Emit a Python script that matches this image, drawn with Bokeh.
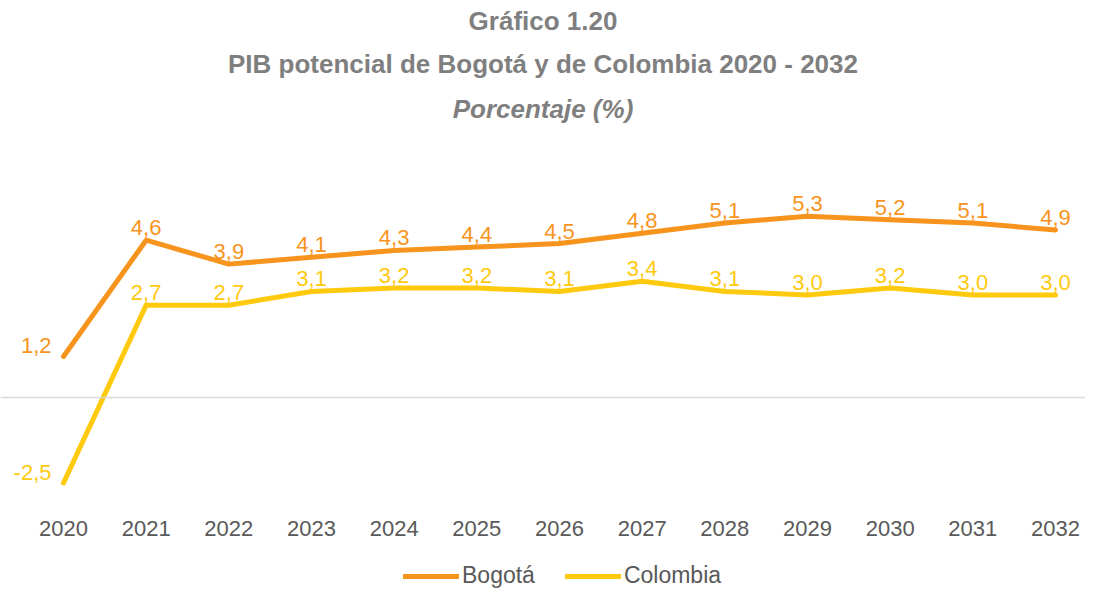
from bokeh.plotting import figure
from bokeh.models import ColumnDataSource, Span, Title, Legend, LegendItem, FixedTicker, Range1d
from bokeh.core.properties import value
from bokeh.embed import file_html
from bokeh.resources import INLINE

years = ["2020", "2021", "2022", "2023", "2024", "2025", "2026",
         "2027", "2028", "2029", "2030", "2031", "2032"]
bogota = [1.2, 4.6, 3.9, 4.1, 4.3, 4.4, 4.5, 4.8, 5.1, 5.3, 5.2, 5.1, 4.9]
colombia = [-2.5, 2.7, 2.7, 3.1, 3.2, 3.2, 3.1, 3.4, 3.1, 3.0, 3.2, 3.0, 3.0]

ORANGE = "#F7941D"
YELLOW = "#FFC90E"
GRAY = "#7F7F7F"
TXT = "#595959"
FONT = "Liberation Sans"
TFONT = "Liberation Sans"

idx = list(range(len(years)))

def fmt(v):
    return f"{v:.1f}".replace(".", ",")

p = figure(frame_width=1085, frame_height=460, output_backend="svg", toolbar_location=None,
           x_range=Range1d(-0.762, 12.363), y_range=Range1d(-5.643, 7.807),
           min_border_left=0, min_border_right=0, min_border_top=0, min_border_bottom=0)
p.title = None
p.outline_line_color = None
p.background_fill_color = "white"
p.border_fill_color = "white"
p.xgrid.grid_line_color = None
p.ygrid.grid_line_color = None
p.yaxis.visible = False

xa = p.xaxis[0]
xa.fixed_location = -3.16
xa.ticker = FixedTicker(ticks=idx)
xa.major_label_overrides = {i: y for i, y in enumerate(years)}
xa.axis_line_color = None
xa.major_tick_line_color = None
xa.minor_tick_line_color = None
xa.major_label_text_font = FONT
xa.major_label_text_font_size = "22px"
xa.major_label_text_color = TXT
xa.major_label_standoff = 9

p.add_layout(Span(location=0, dimension="width", line_color="#D9D9D9", line_width=1.5))

src_b = ColumnDataSource(dict(x=idx, y=bogota, lbl=[fmt(v) for v in bogota]))
src_c = ColumnDataSource(dict(x=idx, y=colombia, lbl=[fmt(v) for v in colombia]))

rb = p.line("x", "y", source=src_b, line_color=ORANGE, line_width=5, line_cap="round", line_join="round")
rc = p.line("x", "y", source=src_c, line_color=YELLOW, line_width=5, line_cap="round", line_join="round")

for src, col in ((src_b, ORANGE), (src_c, YELLOW)):
    first = ColumnDataSource(dict(x=src.data["x"][:1], y=src.data["y"][:1], lbl=src.data["lbl"][:1]))
    rest = ColumnDataSource(dict(x=src.data["x"][1:], y=src.data["y"][1:], lbl=src.data["lbl"][1:]))
    p.text("x", "y", text="lbl", source=rest, text_align="center", text_baseline="bottom",
           y_offset=-5, text_font=value(FONT), text_font_size="22px", text_color=col)
    p.text("x", "y", text="lbl", source=first, text_align="right", text_baseline="middle",
           x_offset=-12, y_offset=-11, text_font=value(FONT), text_font_size="22px", text_color=col)

legend = Legend(items=[LegendItem(label="Bogotá", renderers=[rb]),
                       LegendItem(label="Colombia", renderers=[rc])],
                orientation="horizontal", location=(403, 1),
                border_line_color=None, background_fill_alpha=0,
                label_text_font=FONT, label_text_font_size="23px", label_text_color=TXT,
                glyph_width=56, glyph_height=20, label_height=20, label_standoff=3, spacing=30,
                padding=0, margin=0)
p.add_layout(legend, "center")

p.add_layout(Title(text="Porcentaje (%)", align="center", text_font=TFONT, text_font_size="26px",
                   text_font_style="bold italic", text_color=GRAY, standoff=13), "above")
p.add_layout(Title(text="PIB potencial de Bogotá y de Colombia 2020 - 2032", align="center",
                   text_font=TFONT, text_font_size="26px", text_font_style="bold",
                   text_color=GRAY, standoff=14), "above")
p.add_layout(Title(text="Gráfico 1.20", align="center", text_font=TFONT, text_font_size="26px",
                   text_font_style="bold", text_color=GRAY, standoff=7), "above")

open("out.html", "w").write(file_html(p, INLINE))
